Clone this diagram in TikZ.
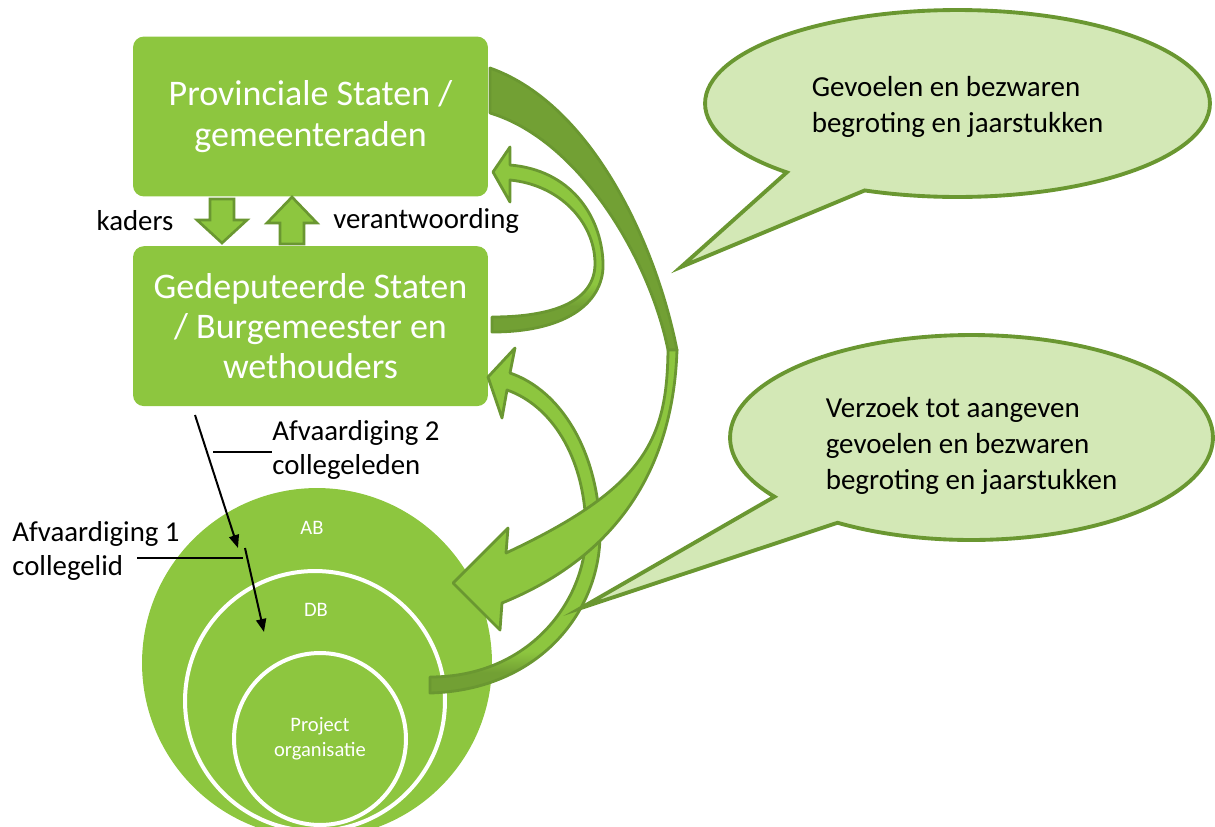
\documentclass[tikz,border=0pt]{standalone}
\usepackage{fontspec}
\setmainfont{Carlito}
\usepackage{tikz}
\usetikzlibrary{arrows.meta,positioning,shapes.geometric,shapes.callouts,calc}
\definecolor{leafgreen}{RGB}{141,198,63}
\definecolor{leafdark}{RGB}{106,151,49}
\definecolor{leafback}{RGB}{114,160,52}
\definecolor{leaflight}{RGB}{211,232,182}
\pgfdeclareverticalshading{lusstart}{100bp}{color(0bp)=(leafback); color(32bp)=(leafback); color(38bp)=(leafgreen); color(100bp)=(leafgreen)}
\pgfdeclareverticalshading{projstart}{100bp}{color(0bp)=(leafback); color(28bp)=(leafback); color(31bp)=(leafgreen); color(100bp)=(leafgreen)}

\begin{document}
\begin{tikzpicture}[x=0.02cm, y=-0.02cm,
    bestuur/.style={rectangle, rounded corners=0.22cm, fill=leafgreen, minimum width=7.1cm,
                    minimum height=3.2cm, align=center, text=white, inner sep=0pt,
                    font=\fontsize{20.5}{23}\selectfont},
    kring/.style={circle, fill=leafgreen, inner sep=0pt},
    ring/.style={kring, draw=white, line width=0.08cm},
    kringtekst/.style={text=white, align=center, inner sep=0pt, font=\fontsize{11.7}{14.2}\selectfont},
    uitleg/.style={align=left, inner sep=0pt, font=\fontsize{16.4}{19.8}\selectfont},
    ballon/.style={ellipse callout, draw=leafdark, fill=leaflight, line width=2.2pt,
                   callout pointer arc=21, align=left, inner sep=0pt,
                   font=\fontsize{16.5}{20.4}\selectfont},
    blok/.style={draw=leafdark, fill=leafgreen, line width=1.5pt},
    lint/.style={draw=leafdark, line width=1.6pt, line join=round},
    pijl/.style={-{Triangle[length=0.26cm, width=0.2cm]}, line width=0.04cm},
    leider/.style={line width=0.03cm},
]
    \useasboundingbox (0,0) rectangle (1215,826);

    \node[bestuur] (ps) at (310.5,116.5) {Provinciale Staten /\\gemeenteraden};
    \node[bestuur, below=0.98cm of ps] (gs) {Gedeputeerde Staten\\/ Burgemeester en\\wethouders};

    \draw[blok] (210,199) -- (234,199) -- (234,220) -- (247,220) -- (222,243)
        -- (197,220) -- (210,220) -- cycle;
    \draw[blok] (280,244) -- (280,223) -- (267,223) -- (292,197) -- (317,223)
        -- (304,223) -- (304,244) -- cycle;
    \node[uitleg] (kaders) at (135,221) {kaders};
    \node[uitleg, anchor=west] (verantw) at (333,221) {verantwoording};

    \node[kring, minimum size=7cm] (ab) at (317,663) {};
    \node[ring, minimum size=5.2cm] (db) at (315,701) {};
    \node[ring, minimum size=3.44cm, kringtekst] (proj) at (320,739) {Project\\organisatie};
    \node[kringtekst] (abtekst) at ($(ab.north)+(-5,40)$) {AB};
    \node[kringtekst] (dbtekst) at ($(db.north)+(1,41)$) {DB};

    \coordinate (afv2s) at (195,415);
    \coordinate (afv2e) at (238,548);
    \coordinate (afv1s) at (245,548);
    \coordinate (afv1e) at (264,632);
    \draw[pijl] (afv2s) -- (afv2e);
    \draw[pijl] (afv1s) -- (afv1e);

    \node[uitleg, anchor=west] (afv2) at (272,450) {Afvaardiging 2\\collegeleden};
    \node[uitleg, anchor=west] (afv1) at (12,551) {Afvaardiging 1\\collegelid};
    \coordinate (lijn2) at (213,452);
    \coordinate (lijn1a) at (137,558);
    \coordinate (lijn1b) at (243,558);
    \draw[leider] (lijn2) -- (afv2.west |- lijn2);
    \draw[leider] (lijn1a) -- (lijn1b);

    \shadedraw[lint, shading=lusstart]
        (492,332) .. controls (570,332) and (605,300) .. (603,262)
        .. controls (601,215) and (570,170) .. (510,165)
        -- (510,147) -- (493,172) -- (510,202) -- (510,180)
        .. controls (560,185) and (594,222) .. (595,262)
        .. controls (596,298) and (560,317) .. (492,317) -- cycle;

    \shadedraw[lint, shading=projstart]
        (430,693) .. controls (540,690) and (602,610) .. (600,530)
        .. controls (598,450) and (560,390) .. (510,373)
        -- (515,348) -- (488,377) -- (502,418) -- (507,390)
        .. controls (550,405) and (585,455) .. (586,530)
        .. controls (587,600) and (530,677) .. (430,677) -- cycle;

    \filldraw[lint, fill=leafback]
        (490,68) .. controls (594,105) and (657,248) .. (677,350)
        -- (668,350) .. controls (650,260) and (580,140) .. (490,113) -- cycle;
    \filldraw[lint, fill=leafgreen]
        (677,350) .. controls (674,440) and (640,547) .. (502,603)
        -- (500,630) -- (453,583) -- (508,528) -- (506,553)
        .. controls (645,488) and (667,440) .. (668,350) -- cycle;

    \node[ballon, minimum width=10.1cm, minimum height=3.74cm, text height=35.5pt,
          callout absolute pointer={(681,267)}] (ballon1) at (957.5,103.5)
        {Gevoelen en bezwaren\\begroting en jaarstukken};
    \node[ballon, minimum width=9.66cm, minimum height=4.1cm, text height=61.5pt,
          callout absolute pointer={(581,608)}] (ballon2) at (971.5,437.5)
        {Verzoek tot aangeven\\gevoelen en bezwaren\\begroting en jaarstukken};
\end{tikzpicture}
\end{document}
